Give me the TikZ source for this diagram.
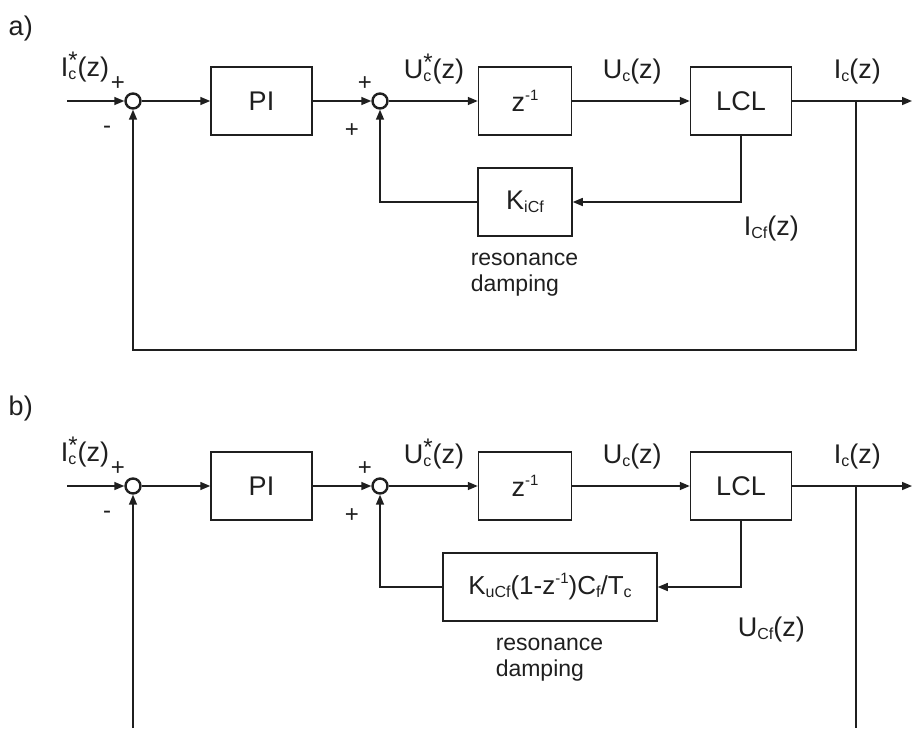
\documentclass[tikz,border=0pt]{standalone}
\usepackage{fontspec}
\setmainfont{Liberation Sans}
\usetikzlibrary{arrows.meta}
\newcommand{\sbx}[1]{\raisebox{-3pt}{\fontsize{16}{16}\selectfont #1}}
\newcommand{\spx}[1]{\raisebox{11pt}{\fontsize{15}{15}\selectfont #1}}
\newcommand{\starsub}[1]{\rlap{\sbx{#1}}\raisebox{8pt}{\fontsize{24}{24}\selectfont *}}
\begin{document}
\begin{tikzpicture}[x=1pt,y=-1pt,
  color=black!88, line width=1.5pt,
  blk/.style={draw, rectangle, minimum width=#1, minimum height=68pt, inner sep=0pt, font=\fontsize{27}{30}\selectfont},
  sumj/.style={draw, circle, minimum size=15pt, inner sep=0pt, line width=2.4pt},
  arr/.style={-{Triangle[length=10pt,width=8pt]}},
  lbl/.style={anchor=base west, inner sep=0pt, font=\fontsize{27}{30}\selectfont},
  sgn/.style={inner sep=0pt, font=\fontsize{24}{24}\selectfont},
  note/.style={anchor=base west, inner sep=0pt, align=left, font=\fontsize{23}{26}\selectfont}
]
\useasboundingbox (0,0) rectangle (912,728);

% ---------- panel a ----------
\node[lbl] (ta) at (8,35) {a)};
\node[sumj] (s1) at (133,101) {};
\node[blk=101pt] (pi) at (261.5,101) {PI};
\node[sumj] (s2) at (380,101) {};
\node[blk=93pt] (zd) at (525,101) {z\spx{-1}};
\node[blk=101pt] (lcl) at (741,101) {LCL};
\node[blk=94pt] (k) at (525,202) {K\sbx{iCf}};
\coordinate (in) at (67,101);
\coordinate (out) at (912,101);
\coordinate (br) at (856,101);
\coordinate (bb) at (856,350);

\draw[arr] (in) -- (s1);
\draw[arr] (s1) -- (pi);
\draw[arr] (pi) -- (s2);
\draw[arr] (s2) -- (zd);
\draw[arr] (zd) -- (lcl);
\draw[arr] (lcl) -- (out);
\draw[arr] (lcl.south) |- (k.east);
\draw[arr] (k.west) -| (s2.south);
\draw[arr] (br) -- (bb) -| (s1.south);

\node[lbl] (la1) at (60,76) {I\starsub{c}(z)};
\node[sgn] (pa1) at (118,84) {+};
\node[sgn] (ma1) at (107,130) {-};
\node[sgn] (pa2) at (365,84) {+};
\node[sgn] (pa3) at (352,131) {+};
\node[lbl] (la2) at (403,78) {U\starsub{c}(z)};
\node[lbl] (la3) at (602,78) {U\sbx{c}(z)};
\node[lbl] (la4) at (833,78) {I\sbx{c}(z)};
\node[lbl] (la5) at (743,235) {I\sbx{Cf}(z)};
\node[note] (na) at (470,291) {resonance\\damping};

% ---------- panel b ----------
\node[lbl] (tb) at (8,415) {b)};
\node[sumj] (s1b) at (133,486) {};
\node[blk=101pt] (pib) at (261.5,486) {PI};
\node[sumj] (s2b) at (380,486) {};
\node[blk=93pt] (zdb) at (525,486) {z\spx{-1}};
\node[blk=101pt] (lclb) at (741,486) {LCL};
\node[blk=214pt, font=\fontsize{26}{30}\selectfont] (kb) at (550,587) {K\sbx{uCf}(1-z\spx{-1})C\sbx{f}/T\sbx{c}};
\coordinate (inb) at (67,486);
\coordinate (outb) at (912,486);
\coordinate (brb) at (856,486);
\coordinate (bbr) at (856,728);
\coordinate (bbl) at (133,728);

\draw[arr] (inb) -- (s1b);
\draw[arr] (s1b) -- (pib);
\draw[arr] (pib) -- (s2b);
\draw[arr] (s2b) -- (zdb);
\draw[arr] (zdb) -- (lclb);
\draw[arr] (lclb) -- (outb);
\draw[arr] (lclb.south) |- (kb.east);
\draw[arr] (kb.west) -| (s2b.south);
\draw (brb) -- (bbr);
\draw[arr] (bbl) -- (s1b.south);

\node[lbl] (lb1) at (60,461) {I\starsub{c}(z)};
\node[sgn] (pb1) at (118,469) {+};
\node[sgn] (mb1) at (107,515) {-};
\node[sgn] (pb2) at (365,469) {+};
\node[sgn] (pb3) at (352,516) {+};
\node[lbl] (lb2) at (403,463) {U\starsub{c}(z)};
\node[lbl] (lb3) at (602,463) {U\sbx{c}(z)};
\node[lbl] (lb4) at (833,463) {I\sbx{c}(z)};
\node[lbl] (lb5) at (737,636) {U\sbx{Cf}(z)};
\node[note] (nb) at (495,676) {resonance\\damping};
\end{tikzpicture}
\end{document}
